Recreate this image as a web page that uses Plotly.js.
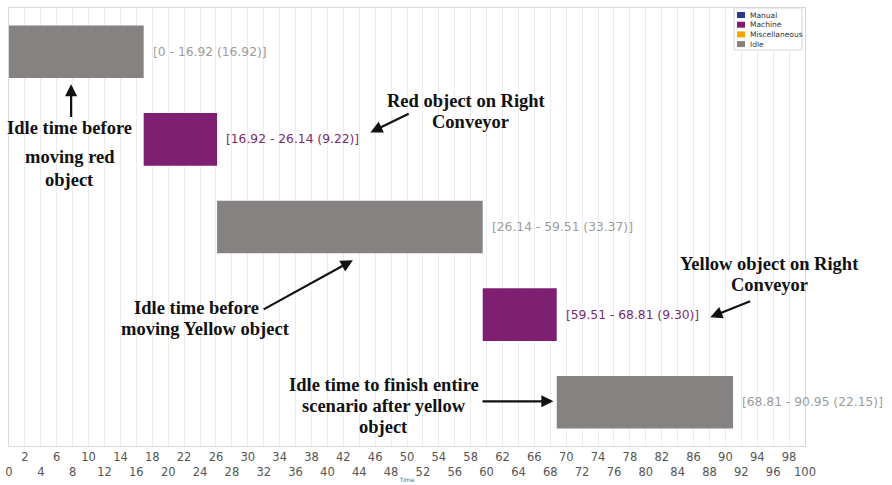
<!DOCTYPE html>
<html>
<head>
<meta charset="utf-8">
<script src="https://cdn.plot.ly/plotly-3.0.1.min.js"></script>
<style>html,body{margin:0;padding:0;background:#fff;}</style>
</head>
<body>
<div id="chart" style="width:892px;height:485px;"></div>
<script>
// Data
const rows = [0, 1, 2, 3, 4];
const kinds = ["Idle", "Machine", "Idle", "Machine", "Idle"];
const starts = [0, 16.92, 26.14, 59.51, 68.81];
const ends = [16.92, 26.14, 59.51, 68.81, 90.95];
const durations = [16.92, 9.22, 33.37, 9.30, 22.15];
const legendNames = ["Manual", "Machine", "Miscellaneous", "Idle"];
const legendColors = {"Manual": "#2b3990", "Machine": "#7e1f71", "Miscellaneous": "#f5a300", "Idle": "#868282"};
const labelColors = {"Machine": "#7a2a6e", "Idle": "#9c9c9c"};
const xTicks = [];
for (let v = 0; v <= 100; v += 2) xTicks.push(v);
// callout text lines: [text, x, y]
const noteLines = [
  ["Idle time before", 7.66, 0.87],
  ["moving red", 7.66, 1.20],
  ["object", 7.66, 1.46],
  ["Red object on Right", 57.5, 0.56],
  ["Conveyor", 58.0, 0.80],
  ["Idle time before", 23.6, 2.92],
  ["moving Yellow object", 24.7, 3.16],
  ["Yellow object on Right", 95.5, 2.42],
  ["Conveyor", 95.5, 2.66],
  ["Idle time to finish entire", 47.1, 3.80],
  ["scenario after yellow", 47.1, 4.04],
  ["object", 47.1, 4.28]
];
// callout arrows: [x0, y0, x1 (head), y1 (head)]
const arrows = [
  [7.8, 0.76, 7.8, 0.37],
  [50.4, 0.70, 45.4, 0.92],
  [31.8, 2.95, 43.2, 2.38],
  [93.3, 2.84, 88.1, 3.03],
  [59.3, 3.99, 68.4, 3.99]
];

const traces = [];
legendNames.forEach(name => {
  const idx = kinds.map((k, i) => k === name ? i : -1).filter(i => i >= 0);
  if (idx.length === 0) return;
  traces.push({
    type: "bar", orientation: "h", name: name,
    y: idx.map(i => rows[i]),
    x: idx.map(i => durations[i]),
    base: idx.map(i => starts[i]),
    width: 0.6,
    marker: {color: legendColors[name]},
    hoverinfo: "skip",
    showlegend: false
  });
});

// pixel helpers for plot area (layout only)
const L = 9, R = 805, T = 8, B = 446;
const px = v => (v - L) / (R - L);
const py = v => (B - v) / (B - T);

const annotations = [];
const shapes = [];
rows.forEach((r, i) => {
  annotations.push({
    x: ends[i], y: r, xref: "x", yref: "y",
    text: "[" + starts[i] + " - " + ends[i] + " (" + durations[i].toFixed(2) + ")]",
    showarrow: false, xanchor: "left", xshift: 7,
    font: {family: "DejaVu Sans", size: 12.3, color: labelColors[kinds[i]]}
  });
});
noteLines.forEach(n => {
  annotations.push({
    x: n[1], y: n[2], xref: "x", yref: "y", text: n[0], showarrow: false,
    xanchor: "center", yanchor: "middle",
    font: {family: "Liberation Serif", size: 18.5, color: "#111", weight: "bold"}
  });
});
arrows.forEach(a => {
  annotations.push({
    x: a[2], y: a[3], ax: a[0], ay: a[1], xref: "x", yref: "y", axref: "x", ayref: "y",
    text: "", showarrow: true, arrowhead: 2, arrowsize: 1.1, arrowwidth: 2.2, arrowcolor: "#111"
  });
});

// custom compact legend
shapes.push({type: "rect", xref: "paper", yref: "paper", x0: px(734), x1: px(802), y0: py(8), y1: py(50),
  line: {color: "#d6d6d6", width: 1}, fillcolor: "#fff", layer: "above"});
legendNames.forEach((name, k) => {
  const cy = 15 + k * 9.7;
  shapes.push({type: "rect", xref: "paper", yref: "paper", x0: px(737), x1: px(745), y0: py(cy + 3), y1: py(cy - 3),
    line: {width: 0}, fillcolor: legendColors[name], layer: "above"});
  annotations.push({x: px(748), y: py(cy), xref: "paper", yref: "paper", text: name, showarrow: false,
    xanchor: "left", yanchor: "middle", font: {family: "DejaVu Sans", size: 7.5, color: "#333"}});
});

const layout = {
  width: 892, height: 485,
  margin: {l: L, r: 892 - R, t: T, b: 485 - B},
  paper_bgcolor: "#fff", plot_bgcolor: "#fff",
  barmode: "overlay",
  showlegend: false,
  xaxis: {
    range: [0, 100], tickmode: "array", tickvals: xTicks,
    ticktext: xTicks.map(v => (v % 4 === 0) ? "<br>" + v : String(v)),
    tickangle: 0,
    showgrid: true, gridcolor: "#ececec", gridwidth: 1,
    zeroline: false, showline: true, linecolor: "#d8d8d8", mirror: true,
    ticks: "", ticklen: 0,
    tickfont: {family: "DejaVu Sans", size: 11.5, color: "#555"},
    title: {text: "Time", font: {family: "DejaVu Sans", size: 6, color: "#666"}, standoff: 0}
  },
  yaxis: {
    range: [4.5, -0.5], showticklabels: false, showgrid: false, zeroline: false,
    showline: true, linecolor: "#d8d8d8", mirror: true, ticks: ""
  },
  annotations: annotations,
  shapes: shapes
};

Plotly.newPlot("chart", traces, layout, {displayModeBar: false, staticPlot: true});
</script>
</body>
</html>
